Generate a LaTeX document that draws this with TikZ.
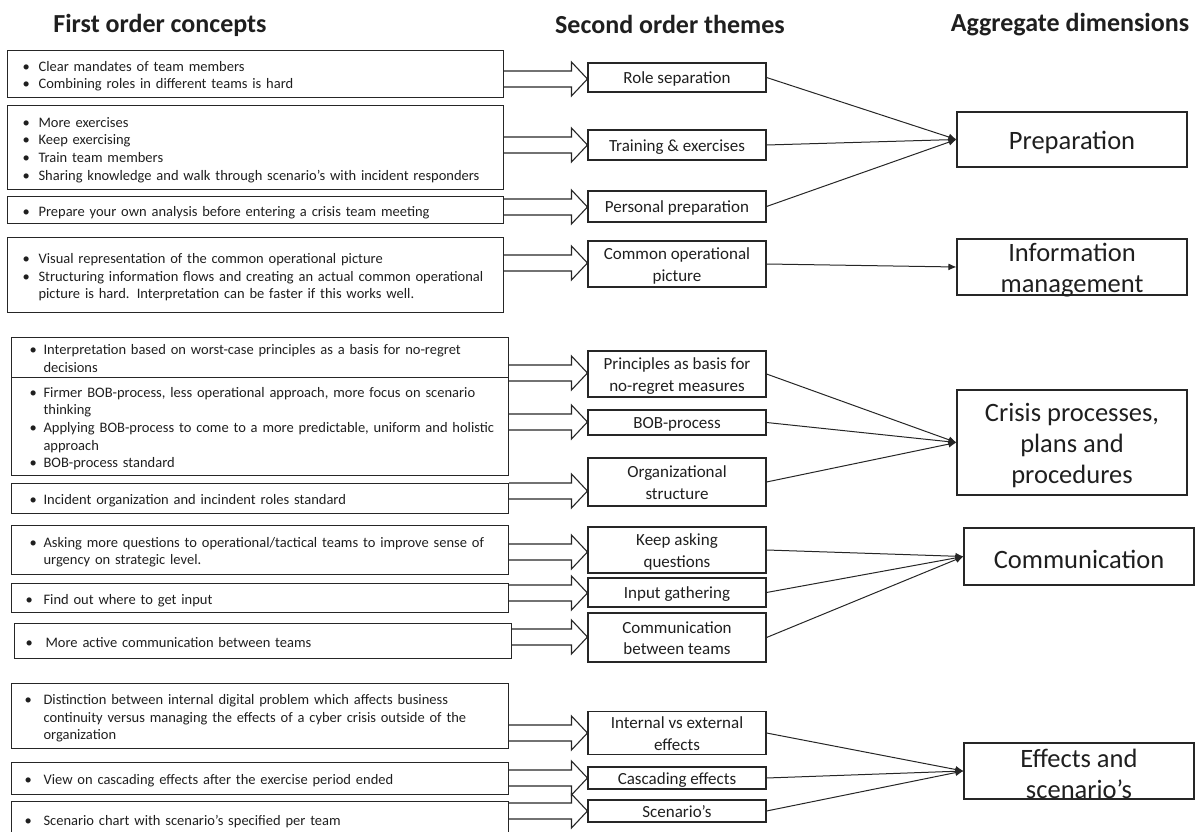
\documentclass[tikz,border=0pt]{standalone}
\usepackage{fontspec}
\setmainfont{Carlito}
\usetikzlibrary{calc,arrows.meta}
\newcommand\lb[2]{\raisebox{-2.5pt}[\height][\depth]{\begin{tabular}{@{}p{#1pt}@{}l@{}}#2\end{tabular}}}
\newcommand\mt[1]{\raisebox{-2pt}[\height][\depth]{\begin{tabular}{@{}c@{}}#1\end{tabular}}}
\newcommand\barr[3]{\draw[blockarr] (#1.east |- 0,#3-8) -- ($(#2.west |- 0,#3)+(-16,-8)$) -- ++(0,-9) -- (#2.west |- 0,#3) -- ++(-16,17) -- ++(0,-9) -- (#1.east |- 0,#3+8);}
\begin{document}
\begin{tikzpicture}[x=1pt,y=-1pt,
  lbox/.style={draw=black!85, line width=1.1pt, anchor=north west, align=left, inner ysep=0pt, font=\fontsize{14.5}{17.7}\selectfont, text=black!88},
  mbox/.style={draw=black!85, line width=1.1pt, minimum width=178pt, align=center, inner sep=0pt, font=\fontsize{17}{21.5}\selectfont, text=black!88},
  abox/.style={draw=black!85, line width=1.1pt, minimum width=230pt, inner sep=0pt},
  atext/.style={align=center, inner sep=0pt, yshift=-3pt, font=\fontsize{26.5}{31}\selectfont, text=black!88},
  head/.style={anchor=base, font=\fontsize{26}{30}\selectfont\bfseries, text=black!88},
  blockarr/.style={draw=black!85, line width=1.1pt, line join=miter},
  conn/.style={draw=black!85, line width=1pt, -{Latex[length=8pt,width=7pt]}}
]
\useasboundingbox (0,0) rectangle (1203,832);

% headers
\node[head] (h1) at (160,33) {First order concepts};
\node[head] (h2) at (670,34) {Second order themes};
\node[head] (h3) at (1070,32) {Aggregate dimensions};

% first order concepts
\node[lbox, inner xsep=15pt, text width=466pt, minimum height=47pt] (l1) at (7,50)
  {\lb{16}{•&Clear mandates of team members\\•&Combining roles in different teams is hard}};
\node[lbox, inner xsep=15pt, text width=466pt, minimum height=84pt] (l2) at (7,105)
  {\lb{16}{•&More exercises\\•&Keep exercising\\•&Train team members\\•&Sharing knowledge and walk through scenario’s with incident responders}};
\node[lbox, inner xsep=15pt, text width=466pt, minimum height=27pt] (l3) at (7,196)
  {\lb{16}{•&Prepare your own analysis before entering a crisis team meeting}};
\node[lbox, inner xsep=15pt, text width=466pt, minimum height=75pt] (l4) at (7,237)
  {\lb{16}{•&Visual representation of the common operational picture\\•&Structuring information flows and creating an actual common operational\\&picture is hard. Interpretation can be faster if this works well.}};
\node[lbox, inner xsep=18pt, text width=461pt, minimum height=40pt] (l5) at (11,337)
  {\lb{14}{•&Interpretation based on worst-case principles as a basis for no-regret\\&decisions}};
\node[lbox, inner xsep=18pt, text width=461pt, minimum height=98pt] (l6) at (11,377)
  {\lb{14}{•&Firmer BOB-process, less operational approach, more focus on scenario\\&thinking\\•&Applying BOB-process to come to a more predictable, uniform and holistic\\&approach\\•&BOB-process standard}};
\node[lbox, inner xsep=18pt, text width=461pt, minimum height=30pt] (l7) at (11,483)
  {\lb{14}{•&Incident organization and incindent roles standard}};
\node[lbox, inner xsep=18pt, text width=461pt, minimum height=49pt] (l8) at (11,525)
  {\lb{14}{•&Asking more questions to operational/tactical teams to improve sense of\\&urgency on strategic level.}};
\node[lbox, inner xsep=14pt, text width=469pt, minimum height=29pt] (l9) at (11,583)
  {\lb{18}{•&Find out where to get input}};
\node[lbox, inner xsep=11pt, text width=475pt, minimum height=35pt] (l10) at (14,623)
  {\lb{20}{•&More active communication between teams}};
\node[lbox, inner xsep=13pt, text width=471pt, minimum height=65pt] (l11) at (11,683)
  {\lb{19}{•&Distinction between internal digital problem which affects business\\&continuity versus managing the effects of a cyber crisis outside of the\\&organization}};
\node[lbox, inner xsep=13pt, text width=471pt, minimum height=32pt] (l12) at (11,762)
  {\lb{19}{•&View on cascading effects after the exercise period ended}};
\node[lbox, inner xsep=13pt, text width=471pt, minimum height=35pt] (l13) at (11,801)
  {\lb{19}{•&Scenario chart with scenario’s specified per team}};

% second order themes
\node[mbox, minimum height=29pt] (rs) at (677,77.5) {\mt{Role separation}};
\node[mbox, minimum height=30pt] (te) at (677,145) {\mt{Training \& exercises}};
\node[mbox, minimum height=31pt] (pp) at (677,206.5) {\mt{Personal preparation}};
\node[mbox, minimum height=46pt] (cop) at (677,264) {\mt{Common operational\\picture}};
\node[mbox, minimum height=46pt] (pr) at (677,374) {\mt{Principles as basis for\\no-regret measures}};
\node[mbox, minimum height=25pt] (bob) at (677,422.5) {\mt{BOB-process}};
\node[mbox, minimum height=48pt] (org) at (677,482) {\mt{Organizational\\structure}};
\node[mbox, minimum height=46pt] (kaq) at (677,550) {\mt{Keep asking\\questions}};
\node[mbox, minimum height=29pt] (ig) at (677,592.5) {\mt{Input gathering}};
\node[mbox, minimum height=49pt] (cbt) at (677,637.5) {\mt{Communication\\between teams}};
\node[mbox, minimum height=42pt] (ive) at (677,733) {\mt{Internal vs external\\effects}};
\node[mbox, minimum height=22pt] (ce) at (677,778) {\mt{Cascading effects}};
\node[mbox, minimum height=22pt] (sc) at (677,811) {\mt{Scenario’s}};

% aggregate dimensions
\node[abox, minimum height=55pt] (prep) at (1072,139.5) {};
\node[atext] (prept) at (prep.center) {Preparation};
\node[abox, minimum height=56pt] (info) at (1072,267) {};
\node[atext] (infot) at (info.center) {Information\\management};
\node[abox, minimum height=105pt] (cri) at (1072,442.5) {};
\node[atext] (crit) at (cri.center) {Crisis processes,\\plans and\\procedures};
\node[abox, minimum height=57pt] (com) at (1079,556.5) {};
\node[atext] (comt) at (com.center) {Communication};
\node[abox, minimum height=56pt] (eff) at (1079,771) {};
\node[atext] (efft) at (eff.center) {Effects and\\scenario’s};

% block arrows
\barr{l1}{rs}{79}
\barr{l2}{te}{145}
\barr{l3}{pp}{207}
\barr{l4}{cop}{263}
\barr{l5}{pr}{373}
\barr{l6}{bob}{422}
\barr{l7}{org}{491}
\barr{l8}{kaq}{552}
\barr{l9}{ig}{593}
\barr{l10}{cbt}{637}
\barr{l11}{ive}{733}
\barr{l12}{ce}{778}
\barr{l13}{sc}{811}

% connectors
\draw[conn] (rs.east) -- (prep.west);
\draw[conn] (te.east) -- (prep.west);
\draw[conn] (pp.east) -- (prep.west);
\draw[conn] (cop.east) -- (info.west);
\draw[conn] (pr.east) -- (cri.west);
\draw[conn] (bob.east) -- (cri.west);
\draw[conn] (org.east) -- (cri.west);
\draw[conn] (kaq.east) -- (com.west);
\draw[conn] (ig.east) -- (com.west);
\draw[conn] (cbt.east) -- (com.west);
\draw[conn] (ive.east) -- (eff.west);
\draw[conn] (ce.east) -- (eff.west);
\draw[conn] (sc.east) -- (eff.west);
\end{tikzpicture}
\end{document}
